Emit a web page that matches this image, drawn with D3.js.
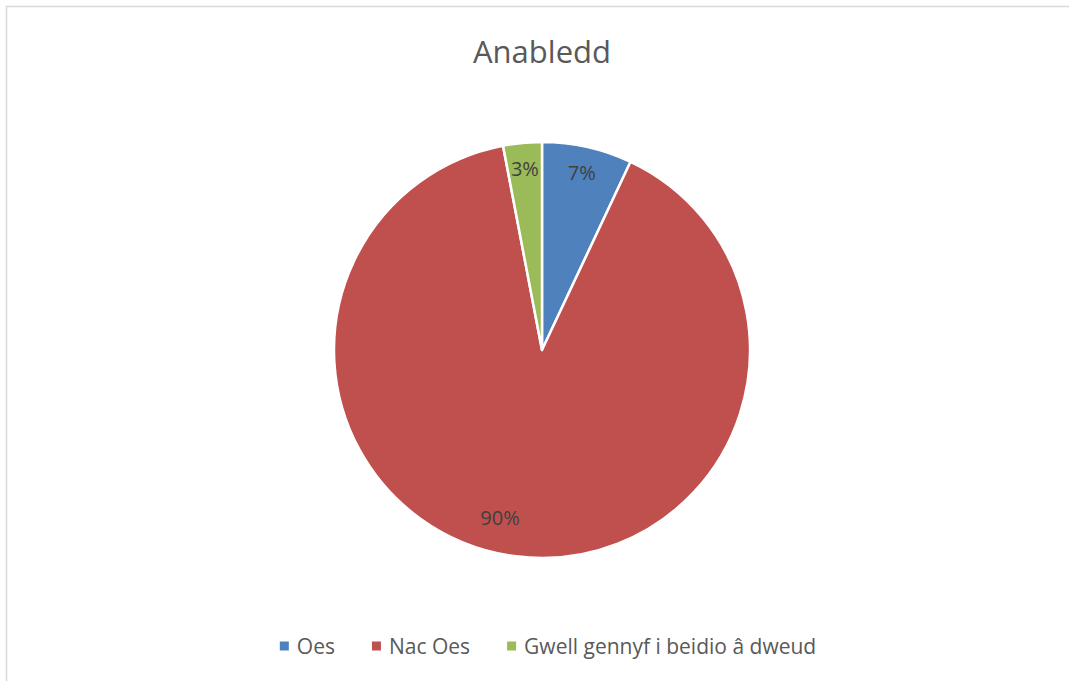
<!DOCTYPE html>
<html>
<head>
<meta charset="utf-8">
<script src="https://cdn.jsdelivr.net/npm/d3@7"></script>
<style>
  html, body { margin: 0; padding: 0; background: #ffffff; }
  svg { display: block; }
</style>
</head>
<body>
<svg id="chart" width="1069" height="681"></svg>
<script>
const title = "Anabledd";
const categories = ["Oes", "Nac Oes", "Gwell gennyf i beidio â dweud"];
const values = [7, 90, 3];
const labels = ["7%", "90%", "3%"];
const colors = ["#4F81BD", "#C0504D", "#9BBB59"];

const W = 1069, H = 681;
const svg = d3.select("#chart");
const font = "'Open Sans', 'Noto Sans', sans-serif";

// chart area border
svg.append("rect")
  .attr("x", 6.5).attr("y", 6.5)
  .attr("width", W + 20).attr("height", H + 20)
  .attr("fill", "#ffffff")
  .attr("stroke", "#d9d9d9").attr("stroke-width", 1.5);

// title
svg.append("text")
  .attr("x", 542).attr("y", 63)
  .attr("text-anchor", "middle")
  .attr("font-family", font)
  .attr("font-size", 31)
  .attr("fill", "#595959")
  .text(title);

// pie
const cx = 542, cy = 350, R = 208;
const data = categories.map((c, i) => ({ name: c, value: values[i], label: labels[i], color: colors[i] }));
const pie = d3.pie().value(d => d.value).sort(null);
const arcs = pie(data);
const arc = d3.arc().innerRadius(0).outerRadius(R);
const labelR = R * 0.875;

const g = svg.append("g").attr("transform", `translate(${cx},${cy})`);
g.selectAll("path.slice")
  .data(arcs)
  .join("path")
  .attr("class", "slice")
  .attr("d", arc)
  .attr("fill", d => d.data.color)
  .attr("stroke", "#ffffff")
  .attr("stroke-width", 2.5)
  .attr("stroke-linejoin", "round");

// best-fit style: large slices get label nudged further along the arc
g.selectAll("text.lbl")
  .data(arcs)
  .join("text")
  .attr("class", "lbl")
  .attr("transform", d => {
    const span = d.endAngle - d.startAngle;
    let a = (d.startAngle + d.endAngle) / 2;
    let r = labelR;
    if (span > Math.PI) { a += 0.12; r = R * 0.83; }
    const x = Math.sin(a) * r, y = -Math.cos(a) * r;
    return `translate(${x},${y})`;
  })
  .attr("text-anchor", "middle")
  .attr("dominant-baseline", "central")
  .attr("font-family", font)
  .attr("font-size", 20)
  .attr("fill", "#404040")
  .text(d => d.data.label);

// legend
const legendY = 646;
const sq = 9, gapSqText = 8, gapItems = 37;
const legend = svg.append("g");
const items = legend.selectAll("g.item").data(data).join("g").attr("class", "item");
items.append("rect")
  .attr("width", sq).attr("height", sq)
  .attr("y", legendY - sq / 2)
  .attr("fill", d => d.color);
items.append("text")
  .attr("x", sq + gapSqText)
  .attr("y", legendY)
  .attr("dominant-baseline", "central")
  .attr("font-family", font)
  .attr("font-size", 21)
  .attr("fill", "#595959")
  .text(d => d.name);
let widths = [];
items.each(function() {
  widths.push(this.getBBox().width);
});
const total = d3.sum(widths) + gapItems * (widths.length - 1);
let xPos = 548 - total / 2;
items.attr("transform", (d, i) => {
  const t = `translate(${xPos},0)`;
  xPos += widths[i] + gapItems;
  return t;
});
</script>
</body>
</html>
